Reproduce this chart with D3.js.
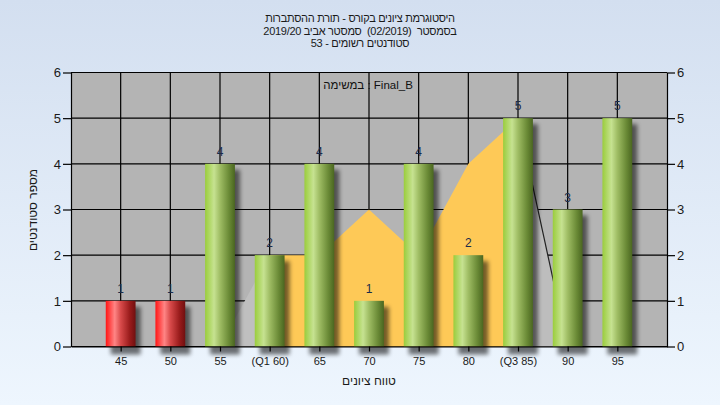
<!DOCTYPE html>
<html>
<head>
<meta charset="utf-8">
<script src="https://cdn.jsdelivr.net/npm/d3@7"></script>
<style>
  html, body { margin: 0; padding: 0; background: #e4edf8; }
  svg { display: block; }
  text { font-family: "Liberation Sans", Arial, sans-serif; }
</style>
</head>
<body>
<svg id="chart" width="720" height="405"></svg>
<script>
// ---- data ----
const categories = [45, 50, 55, 60, 65, 70, 75, 80, 85, 90, 95];
const tickLabels = ["45", "50", "55", "(Q1 60)", "65", "70", "75", "80", "(Q3 85)", "90", "95"];
const counts = [1, 1, 4, 2, 4, 1, 4, 2, 5, 3, 5];
const passMark = 55;
const areaCats = [55, 60, 65, 70, 75, 80, 85, 90];
const areaVals = [0, 2, 2, 3, 2, 4, 5, 0];
const q1 = 60, q3 = 85;
const yTicks = [0, 1, 2, 3, 4, 5, 6];
const titleLines = [
  "היסטוגרמת ציונים בקורס - תורת ההסתברות",
  "בסמסטר  (02/2019)  סמסטר אביב 2019/20",
  "סטודנטים רשומים - 53"
];
const legendText = "במשימה : Final_B";
const xTitle = "טווח ציונים";
const yTitle = "מספר סטודנטים";

// ---- layout ----
const W = 720, H = 405;
const L = 71, R = 667, T = 72.5, B = 346.5;
const svg = d3.select("#chart");
const defs = svg.append("defs");

const bg = defs.append("linearGradient").attr("id", "bg").attr("x1", 0).attr("y1", 0).attr("x2", 0).attr("y2", 1);
bg.append("stop").attr("offset", "0%").attr("stop-color", "#d3dff0");
bg.append("stop").attr("offset", "100%").attr("stop-color", "#eef6fe");

function cyl(id, stops) {
  const g = defs.append("linearGradient").attr("id", id).attr("x1", 0).attr("y1", 0).attr("x2", 1).attr("y2", 0);
  stops.forEach(s => g.append("stop").attr("offset", s[0]).attr("stop-color", s[1]));
}
cyl("green", [["0%", "#9acd3c"], ["30%", "#c6e291"], ["50%", "#9fbd64"], ["80%", "#6a8a36"], ["100%", "#4a6620"]]);
cyl("red", [["0%", "#ff1515"], ["30%", "#ff8585"], ["50%", "#d84a4a"], ["80%", "#9a1c1c"], ["100%", "#701010"]]);

const blur = defs.append("filter").attr("id", "blur").attr("x", "-50%").attr("y", "-20%").attr("width", "200%").attr("height", "140%");
blur.append("feGaussianBlur").attr("stdDeviation", 2.2);

svg.append("rect").attr("width", W).attr("height", H).attr("fill", "url(#bg)");

const x = d3.scalePoint().domain(categories).range([L, R]).padding(1);
const y = d3.scaleLinear().domain([0, 6]).range([B, T]);
const bw = x.step() * 0.6;

// plot background
svg.append("rect").attr("x", L).attr("y", T).attr("width", R - L).attr("height", B - T).attr("fill", "#b4b4b4");

// gridlines
const grid = svg.append("g").attr("stroke", "#000").attr("stroke-width", 1.2);
yTicks.forEach(t => grid.append("line").attr("x1", L).attr("x2", R).attr("y1", y(t)).attr("y2", y(t)));
categories.forEach(c => grid.append("line").attr("x1", x(c)).attr("x2", x(c)).attr("y1", T).attr("y2", B));

// legend text (behind marks, over grid)
svg.append("text").attr("x", 368).attr("y", 89).attr("text-anchor", "middle")
  .attr("font-size", 11.5).attr("fill", "#111").attr("direction", "ltr")
  .style("white-space", "pre").text(legendText);

// background area
const pts = areaCats.map((c, i) => ({c, v: areaVals[i]}));
const area = d3.area().x(d => x(d.c)).y0(B).y1(d => y(d.v));
const iq1 = areaCats.indexOf(q1), iq3 = areaCats.indexOf(q3);
svg.append("path").datum(pts.slice(0, iq1 + 1)).attr("d", area).attr("fill", "#bfbfbf");
svg.append("path").datum(pts.slice(iq3)).attr("d", area).attr("fill", "#bdbdbd");
svg.append("path").datum(pts.slice(iq1, iq3 + 1)).attr("d", area).attr("fill", "#fec957");
svg.append("path").datum(pts.slice(iq3))
  .attr("d", d3.line().x(d => x(d.c)).y(d => y(d.v)))
  .attr("fill", "none").attr("stroke", "#222").attr("stroke-width", 1.2);

// bar shadows
svg.append("g").selectAll("rect").data(categories).join("rect")
  .attr("x", c => x(c) - bw / 2 + 5).attr("y", (c, i) => y(counts[i]) + 6)
  .attr("width", bw).attr("height", (c, i) => B - y(counts[i]) + 2)
  .attr("fill", "#000").attr("opacity", 0.55).attr("filter", "url(#blur)");

// bars
svg.append("g").selectAll("rect").data(categories).join("rect")
  .attr("x", c => x(c) - bw / 2).attr("y", (c, i) => y(counts[i]))
  .attr("width", bw).attr("height", (c, i) => B - y(counts[i]))
  .attr("fill", c => c < passMark ? "url(#red)" : "url(#green)");

// value labels
svg.append("g").selectAll("text").data(categories).join("text")
  .attr("x", c => x(c)).attr("y", (c, i) => y(counts[i]) - 8)
  .attr("text-anchor", "middle").attr("font-size", 12).attr("fill", "#1b2b4a")
  .text((c, i) => counts[i]);

// axes
function styleAxis(g, fs) {
  g.selectAll("path").attr("stroke", "#000").attr("stroke-width", 1.2);
  g.selectAll("line").attr("stroke", "#000").attr("stroke-width", 1.2);
  g.selectAll("text").attr("font-size", fs).attr("fill", "#1a1a1a").attr("font-family", "Liberation Sans, Arial, sans-serif");
}
const ax = svg.append("g").attr("transform", `translate(0,${B})`)
  .call(d3.axisBottom(x).tickSizeInner(5).tickSizeOuter(0).tickPadding(6).tickFormat((c, i) => tickLabels[i]));
styleAxis(ax, 11);
const ayl = svg.append("g").attr("transform", `translate(${L},0)`)
  .call(d3.axisLeft(y).tickValues(yTicks).tickSizeInner(8).tickSizeOuter(0).tickPadding(2).tickFormat(d3.format("d")));
styleAxis(ayl, 13);
const ayr = svg.append("g").attr("transform", `translate(${R},0)`)
  .call(d3.axisRight(y).tickValues(yTicks).tickSizeInner(8).tickSizeOuter(0).tickPadding(2).tickFormat(d3.format("d")));
styleAxis(ayr, 13);

// titles
svg.append("g").selectAll("text").data(titleLines).join("text")
  .attr("x", 360).attr("y", (d, i) => 22 + i * 12.7)
  .attr("text-anchor", "middle").attr("direction", "rtl").style("unicode-bidi", "plaintext")
  .style("white-space", "pre").attr("letter-spacing", -0.3)
  .attr("font-size", 11).attr("fill", "#1a1a1a").text(d => d);

svg.append("text").attr("x", 369).attr("y", 385).attr("text-anchor", "middle")
  .attr("font-size", 12).attr("fill", "#1a1a1a").text(xTitle);
svg.append("text").attr("transform", "translate(37,210) rotate(-90)").attr("text-anchor", "middle")
  .attr("font-size", 12).attr("fill", "#1a1a1a").text(yTitle);
</script>
</body>
</html>
